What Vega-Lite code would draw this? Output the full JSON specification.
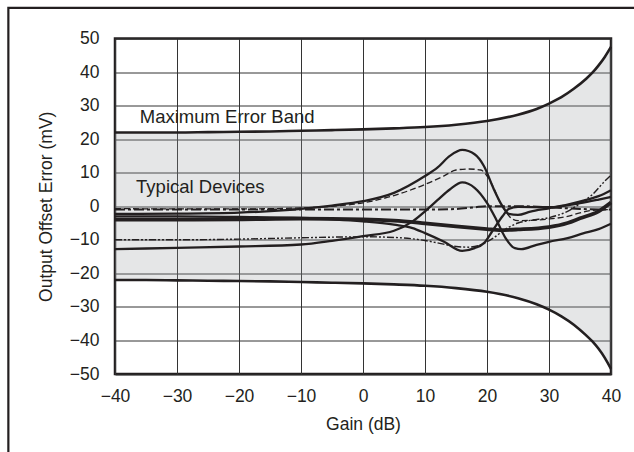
{
  "$schema": "https://vega.github.io/schema/vega-lite/v6.json",
  "width": 496,
  "height": 335.5,
  "autosize": "none",
  "padding": {"left": 115, "top": 38.5, "right": 23, "bottom": 78},
  "background": "white",
  "config": {
    "view": {"stroke": "#231f20", "strokeWidth": 2.5},
    "font": "Liberation Sans",
    "axis": {
      "grid": true,
      "gridColor": "#333333",
      "gridWidth": 1,
      "domain": false,
      "ticks": false,
      "labelFlush": false,
      "labelOverlap": false,
      "labelSeparation": 0,
      "labelFont": "Liberation Sans",
      "labelFontSize": 17.5,
      "labelColor": "#231f20",
      "titleFont": "Liberation Sans",
      "titleFontSize": 17.5,
      "titleFontWeight": "normal",
      "titleColor": "#231f20"
    },
    "axisY": {"labelOverlap": false, "labelBound": false, "labelFlush": false},
    "axisLeft": {"labelOverlap": false}
  },
  "datasets": {
    "band": [
      {"x": -40, "upper": 22, "lower": -22},
      {"x": -35, "upper": 22, "lower": -22},
      {"x": -30, "upper": 22, "lower": -22.1},
      {"x": -25, "upper": 22.1, "lower": -22.2},
      {"x": -20, "upper": 22.2, "lower": -22.3},
      {"x": -15, "upper": 22.3, "lower": -22.4},
      {"x": -10, "upper": 22.5, "lower": -22.6},
      {"x": -5, "upper": 22.7, "lower": -22.8},
      {"x": 0, "upper": 22.9, "lower": -23},
      {"x": 5, "upper": 23.2, "lower": -23.3},
      {"x": 10, "upper": 23.6, "lower": -23.7},
      {"x": 15, "upper": 24.3, "lower": -24.4},
      {"x": 20, "upper": 25.4, "lower": -25.5},
      {"x": 25, "upper": 27.3, "lower": -27.4},
      {"x": 28, "upper": 29, "lower": -29.2},
      {"x": 30, "upper": 30.6, "lower": -30.8},
      {"x": 32, "upper": 32.5, "lower": -32.8},
      {"x": 34, "upper": 35, "lower": -35.3},
      {"x": 36, "upper": 38, "lower": -38.5},
      {"x": 37, "upper": 39.8, "lower": -40.3},
      {"x": 38, "upper": 42, "lower": -42.5},
      {"x": 39, "upper": 44.5, "lower": -45.2},
      {"x": 40, "upper": 47.5, "lower": -48.5}
    ],
    "devices": [
      {"s": "A", "x": -40, "y": -2.3}, {"s": "A", "x": -30, "y": -2.2}, {"s": "A", "x": -20, "y": -1.9},
      {"s": "A", "x": -10, "y": -0.8}, {"s": "A", "x": -5, "y": 0.2}, {"s": "A", "x": 0, "y": 1.5},
      {"s": "A", "x": 5, "y": 4}, {"s": "A", "x": 10, "y": 9}, {"s": "A", "x": 12, "y": 11.5},
      {"s": "A", "x": 14, "y": 15}, {"s": "A", "x": 16, "y": 16.8}, {"s": "A", "x": 18, "y": 15.5},
      {"s": "A", "x": 19.5, "y": 12}, {"s": "A", "x": 21, "y": 5.5}, {"s": "A", "x": 22.5, "y": 0},
      {"s": "A", "x": 23.5, "y": -2.3}, {"s": "A", "x": 25, "y": -2.6}, {"s": "A", "x": 27, "y": -1.6},
      {"s": "A", "x": 30, "y": -0.6}, {"s": "A", "x": 33, "y": 0.5}, {"s": "A", "x": 36, "y": 1.9},
      {"s": "A", "x": 38, "y": 3}, {"s": "A", "x": 40, "y": 4.8},

      {"s": "B", "x": -40, "y": -0.7}, {"s": "B", "x": -30, "y": -0.8}, {"s": "B", "x": -20, "y": -0.8},
      {"s": "B", "x": -10, "y": -0.5}, {"s": "B", "x": -5, "y": 0}, {"s": "B", "x": 0, "y": 1},
      {"s": "B", "x": 5, "y": 3.2}, {"s": "B", "x": 10, "y": 6.5}, {"s": "B", "x": 13, "y": 9},
      {"s": "B", "x": 15, "y": 10.8}, {"s": "B", "x": 17, "y": 11.1}, {"s": "B", "x": 19, "y": 10.8},
      {"s": "B", "x": 20, "y": 9}, {"s": "B", "x": 21, "y": 5.8}, {"s": "B", "x": 22, "y": 1.5},
      {"s": "B", "x": 23, "y": -1.5}, {"s": "B", "x": 24, "y": -3.7}, {"s": "B", "x": 25, "y": -4.3},
      {"s": "B", "x": 27, "y": -4.2}, {"s": "B", "x": 30, "y": -3.8}, {"s": "B", "x": 33, "y": -3},
      {"s": "B", "x": 35, "y": -2}, {"s": "B", "x": 37, "y": -1.2}, {"s": "B", "x": 40, "y": -1},

      {"s": "F", "x": -40, "y": -1}, {"s": "F", "x": -20, "y": -1}, {"s": "F", "x": 0, "y": -1},
      {"s": "F", "x": 10, "y": -1}, {"s": "F", "x": 15, "y": -0.8}, {"s": "F", "x": 18, "y": -0.3},
      {"s": "F", "x": 20, "y": 0}, {"s": "F", "x": 25, "y": 0}, {"s": "F", "x": 30, "y": -0.3},
      {"s": "F", "x": 35, "y": -0.8}, {"s": "F", "x": 40, "y": -1},

      {"s": "D", "x": -40, "y": -10}, {"s": "D", "x": -30, "y": -10}, {"s": "D", "x": -20, "y": -9.8},
      {"s": "D", "x": -10, "y": -9.4}, {"s": "D", "x": 0, "y": -9.1}, {"s": "D", "x": 5, "y": -9.3},
      {"s": "D", "x": 10, "y": -10.2}, {"s": "D", "x": 13, "y": -11.3}, {"s": "D", "x": 15, "y": -12},
      {"s": "D", "x": 17, "y": -12.2}, {"s": "D", "x": 19, "y": -11.5}, {"s": "D", "x": 21, "y": -9.5},
      {"s": "D", "x": 23, "y": -6.8}, {"s": "D", "x": 25, "y": -5}, {"s": "D", "x": 27, "y": -4.2},
      {"s": "D", "x": 30, "y": -3.4}, {"s": "D", "x": 33, "y": -1.5}, {"s": "D", "x": 35, "y": 0.8},
      {"s": "D", "x": 37, "y": 3.5}, {"s": "D", "x": 39, "y": 7.5}, {"s": "D", "x": 40, "y": 9.3},

      {"s": "H", "x": -40, "y": -3}, {"s": "H", "x": -30, "y": -3}, {"s": "H", "x": -20, "y": -3.2},
      {"s": "H", "x": -10, "y": -3.5}, {"s": "H", "x": 0, "y": -4.5}, {"s": "H", "x": 5, "y": -5.5},
      {"s": "H", "x": 8, "y": -6.5}, {"s": "H", "x": 10, "y": -8}, {"s": "H", "x": 13, "y": -10.5},
      {"s": "H", "x": 16, "y": -13.3}, {"s": "H", "x": 18, "y": -12.5}, {"s": "H", "x": 19.5, "y": -11},
      {"s": "H", "x": 21, "y": -7}, {"s": "H", "x": 22.5, "y": -3}, {"s": "H", "x": 23.5, "y": -0.8},
      {"s": "H", "x": 25, "y": -0.2}, {"s": "H", "x": 30, "y": -0.3}, {"s": "H", "x": 35, "y": 0.9},
      {"s": "H", "x": 38, "y": 2}, {"s": "H", "x": 40, "y": 2.8},

      {"s": "C", "x": -40, "y": -4}, {"s": "C", "x": -30, "y": -4}, {"s": "C", "x": -20, "y": -3.9},
      {"s": "C", "x": -10, "y": -3.7}, {"s": "C", "x": 0, "y": -3.9}, {"s": "C", "x": 5, "y": -4.3},
      {"s": "C", "x": 10, "y": -5.1}, {"s": "C", "x": 15, "y": -6}, {"s": "C", "x": 20, "y": -6.8},
      {"s": "C", "x": 22, "y": -7.1}, {"s": "C", "x": 25, "y": -6.9}, {"s": "C", "x": 30, "y": -6.2},
      {"s": "C", "x": 33, "y": -5}, {"s": "C", "x": 35, "y": -3.6}, {"s": "C", "x": 38, "y": -1.5},
      {"s": "C", "x": 40, "y": 1.1},

      {"s": "E", "x": -40, "y": -12.8}, {"s": "E", "x": -30, "y": -12.4}, {"s": "E", "x": -20, "y": -12},
      {"s": "E", "x": -10, "y": -11.4}, {"s": "E", "x": -5, "y": -10.3}, {"s": "E", "x": 0, "y": -8.9},
      {"s": "E", "x": 5, "y": -7.3}, {"s": "E", "x": 8, "y": -4.5}, {"s": "E", "x": 10, "y": -1.5},
      {"s": "E", "x": 12, "y": 1.8}, {"s": "E", "x": 14, "y": 5}, {"s": "E", "x": 16, "y": 7.1},
      {"s": "E", "x": 18, "y": 5.5}, {"s": "E", "x": 20, "y": 1}, {"s": "E", "x": 21.5, "y": -4},
      {"s": "E", "x": 23, "y": -9.5}, {"s": "E", "x": 24.5, "y": -12.5}, {"s": "E", "x": 25.5, "y": -12.8},
      {"s": "E", "x": 28, "y": -11.5}, {"s": "E", "x": 30, "y": -10.6}, {"s": "E", "x": 33, "y": -9.5},
      {"s": "E", "x": 35.5, "y": -8.1}, {"s": "E", "x": 38, "y": -6.8}, {"s": "E", "x": 40, "y": -5.2}
    ],
    "notes": [
      {"label": "Maximum Error Band", "x": -36, "y": 26.6},
      {"label": "Typical Devices", "x": -36.6, "y": 5.6}
    ],
    "frame": [
      {"x1": -57.2, "x2": 47, "y1": 59.1, "y2": -80}
    ]
  },
  "layer": [
    {
      "data": {"name": "band"},
      "mark": {"type": "area", "fill": "#9b9fa3", "fillOpacity": 0.26, "interpolate": "monotone"},
      "encoding": {
        "x": {"field": "x", "type": "quantitative", "scale": {"domain": [-40, 40], "nice": false, "zero": false},
              "axis": {"values": [-40, -30, -20, -10, 0, 10, 20, 30, 40], "title": "Gain (dB)", "labelPadding": 13, "titlePadding": 11, "labelOverlap": false, "labelFlush": false}},
        "y": {"field": "upper", "type": "quantitative", "scale": {"domain": [-50, 50], "nice": false, "zero": false},
              "axis": {"values": [-50, -40, -30, -20, -10, 0, 10, 20, 30, 40, 50], "tickCount": 11, "title": "Output Offset Error (mV)", "labelPadding": 16, "titlePadding": 14, "labelOverlap": false, "labelFlush": false, "labelBound": false}},
        "y2": {"field": "lower"}
      }
    },
    {
      "data": {"name": "band"},
      "mark": {"type": "line", "color": "#231f20", "strokeWidth": 2.6, "interpolate": "monotone"},
      "encoding": {
        "x": {"field": "x", "type": "quantitative"},
        "y": {"field": "upper", "type": "quantitative"}
      }
    },
    {
      "data": {"name": "band"},
      "mark": {"type": "line", "color": "#231f20", "strokeWidth": 2.6, "interpolate": "monotone"},
      "encoding": {
        "x": {"field": "x", "type": "quantitative"},
        "y": {"field": "lower", "type": "quantitative"}
      }
    },
    {
      "data": {"name": "devices"},
      "transform": [{"filter": {"field": "s", "oneOf": ["A", "E", "H"]}}],
      "mark": {"type": "line", "color": "#231f20", "strokeWidth": 2.3, "interpolate": "monotone"},
      "encoding": {
        "x": {"field": "x", "type": "quantitative"},
        "y": {"field": "y", "type": "quantitative"},
        "detail": {"field": "s"}
      }
    },
    {
      "data": {"name": "devices"},
      "transform": [{"filter": {"field": "s", "equal": "C"}}],
      "mark": {"type": "line", "color": "#231f20", "strokeWidth": 3.8, "interpolate": "monotone"},
      "encoding": {
        "x": {"field": "x", "type": "quantitative"},
        "y": {"field": "y", "type": "quantitative"}
      }
    },
    {
      "data": {"name": "devices"},
      "transform": [{"filter": {"field": "s", "equal": "B"}}],
      "mark": {"type": "line", "color": "#231f20", "strokeWidth": 1.3, "strokeDash": [6, 3], "interpolate": "monotone"},
      "encoding": {
        "x": {"field": "x", "type": "quantitative"},
        "y": {"field": "y", "type": "quantitative"}
      }
    },
    {
      "data": {"name": "devices"},
      "transform": [{"filter": {"field": "s", "equal": "F"}}],
      "mark": {"type": "line", "color": "#231f20", "strokeWidth": 2, "strokeDash": [10, 3, 3, 3], "interpolate": "monotone"},
      "encoding": {
        "x": {"field": "x", "type": "quantitative"},
        "y": {"field": "y", "type": "quantitative"}
      }
    },
    {
      "data": {"name": "devices"},
      "transform": [{"filter": {"field": "s", "equal": "D"}}],
      "mark": {"type": "line", "color": "#231f20", "strokeWidth": 1.4, "strokeDash": [7, 2, 2, 2, 2, 2], "interpolate": "monotone"},
      "encoding": {
        "x": {"field": "x", "type": "quantitative"},
        "y": {"field": "y", "type": "quantitative"}
      }
    },
    {
      "data": {"name": "notes"},
      "mark": {"type": "text", "align": "left", "baseline": "middle", "fontSize": 18.5, "font": "Liberation Sans", "color": "#231f20"},
      "encoding": {
        "x": {"field": "x", "type": "quantitative"},
        "y": {"field": "y", "type": "quantitative"},
        "text": {"field": "label"}
      }
    },
    {
      "data": {"name": "frame"},
      "mark": {"type": "rect", "fill": "white", "fillOpacity": 0, "stroke": "#231f20", "strokeWidth": 2.2, "clip": false},
      "encoding": {
        "x": {"field": "x1", "type": "quantitative"},
        "x2": {"field": "x2"},
        "y": {"field": "y1", "type": "quantitative"},
        "y2": {"field": "y2"}
      }
    }
  ]
}
